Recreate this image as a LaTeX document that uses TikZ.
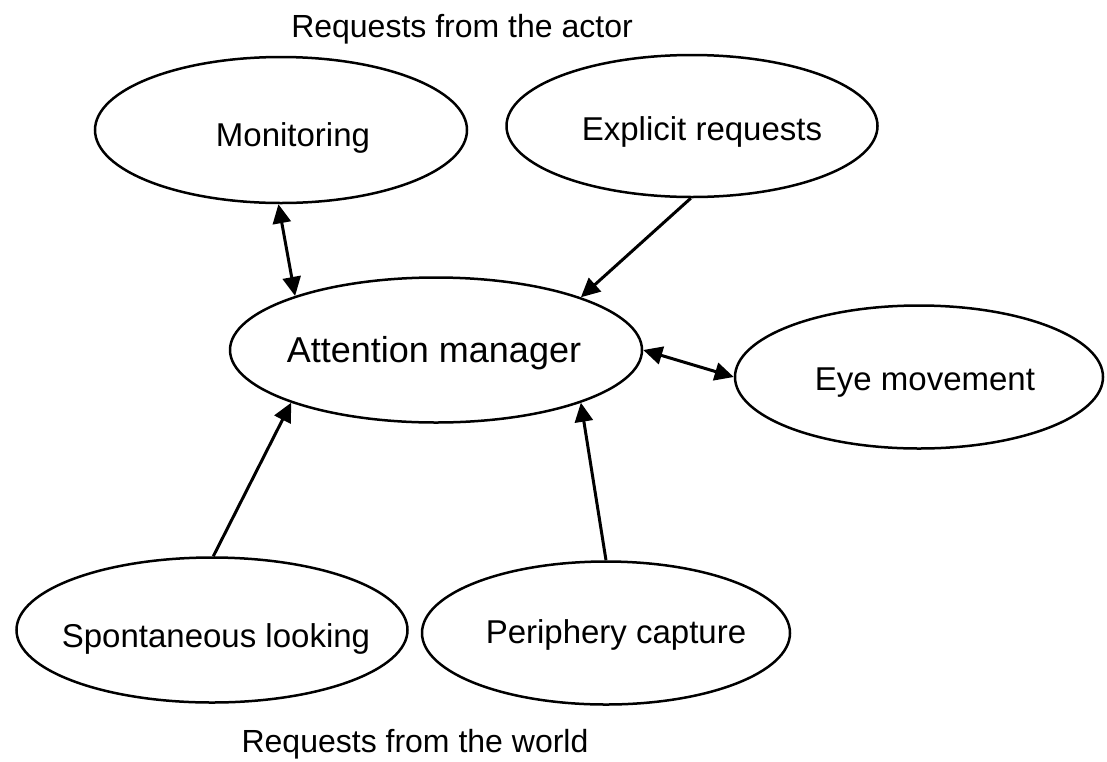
\documentclass[tikz,border=0pt]{standalone}
\usepackage{fontspec}
\setmainfont{Liberation Sans}
\usetikzlibrary{shapes.geometric,arrows.meta}
\begin{document}
\begin{tikzpicture}[x=1pt,y=1pt,
  oval/.style={draw, ellipse, line width=2.5pt, inner sep=0pt},
  lbl/.style={font=\fontsize{33}{38}\selectfont, inner sep=0pt, anchor=base},
  biglbl/.style={font=\fontsize{36}{40}\selectfont, inner sep=0pt, anchor=base},
  title/.style={font=\fontsize{32}{38}\selectfont, inner sep=0pt, anchor=base},
  tip/.tip={Triangle[length=19pt,width=18pt]},
  link/.style={line width=3pt, -tip},
  link2/.style={line width=3pt, tip-tip}]
\useasboundingbox (0,0) rectangle (1107,-761);

% ovals
\node[oval, minimum width=372pt, minimum height=146pt] (mon) at (281,-130) {};
\node[oval, minimum width=371pt, minimum height=142pt] (exp) at (692,-126) {};
\node[oval, minimum width=412pt, minimum height=145pt] (att) at (436,-350) {};
\node[oval, minimum width=368pt, minimum height=143pt] (eye) at (919,-377) {};
\node[oval, minimum width=391pt, minimum height=145pt] (spo) at (212,-630) {};
\node[oval, minimum width=368pt, minimum height=143pt] (per) at (606,-633) {};

% texts inside the ovals
\node[lbl] (mon-t) at (293,-146) {Monitoring};
\node[lbl] (exp-t) at (702,-140) {Explicit requests};
\node[biglbl] (att-t) at (434,-362) {Attention manager};
\node[lbl] (eye-t) at (925,-390) {Eye movement};
\node[lbl] (spo-t) at (216,-647) {Spontaneous looking};
\node[lbl] (per-t) at (616,-643) {Periphery capture};

% group titles
\node[title] (actor) at (462,-37) {Requests from the actor};
\node[title] (world) at (415,-752) {Requests from the world};

% connectors
\draw[link2] (mon.-92) -- (att.159);
\draw[link] (exp.-91) -- (att.20);
\draw[link2] (att.0) -- (eye.180);
\draw[link] (spo.89) -- (att.-160);
\draw[link] (per.90) -- (att.-20);
\end{tikzpicture}
\end{document}
